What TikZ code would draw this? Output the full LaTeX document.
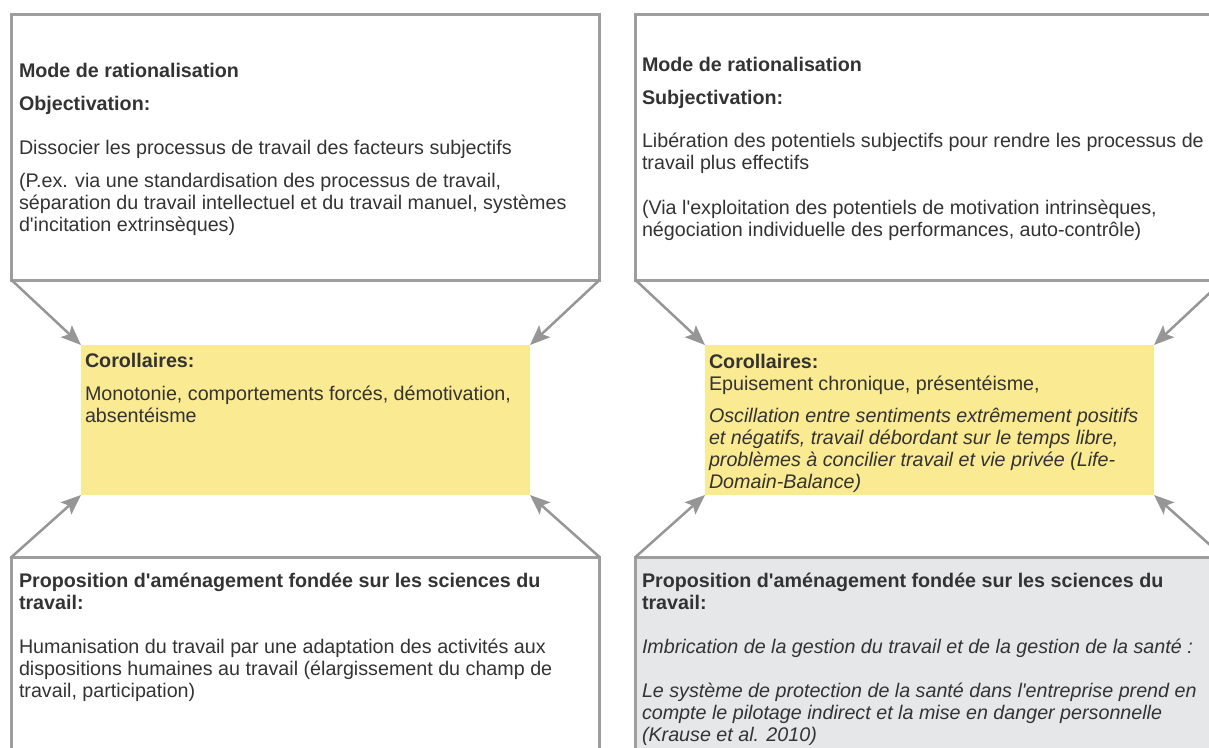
\documentclass[tikz,border=0pt]{standalone}
\usepackage{fontspec}
\usetikzlibrary{arrows.meta}
\newfontfamily\diagfont{Liberation Sans}
\definecolor{framegray}{RGB}{158,158,158}
\definecolor{arrowgray}{RGB}{150,150,150}
\definecolor{coryellow}{RGB}{250,234,145}
\definecolor{propgray}{RGB}{230,231,233}
\definecolor{textgray}{RGB}{51,51,51}

\begin{document}
\begin{tikzpicture}[line cap=round,line join=round,>={Stealth[length=20pt,width=16pt,inset=4pt]},x=1pt,y=-1pt,
  every node/.style={inner sep=0pt,outer sep=0pt},
  frame/.style={rectangle,draw=framegray,line width=3pt,line join=miter,anchor=north west,minimum width=588pt,minimum height=#1},
  corbox/.style={rectangle,fill=coryellow,anchor=north west,minimum width=449pt,minimum height=150pt},
  txt/.style={anchor=north west,align=left,text=textgray,font=\diagfont\fontsize{19.7}{22}\selectfont},
  flow/.style={->,draw=arrowgray,line width=2.5pt}]
\useasboundingbox (0,0) rectangle (1209,747);
\clip (0,0) rectangle (1209,747);
% left column
\node[frame=266pt] (ratL) at (11.5,14) {};
\node[corbox] (corL) at (81,345) {};
\node[frame=220pt] (propL) at (11.5,557) {};
% right column
\node[frame=266pt] (ratR) at (635.5,14) {};
\node[corbox] (corR) at (705,345) {};
\node[frame=220pt,fill=propgray] (propR) at (635.5,557) {};
% arrows
\draw[flow] (ratL.south west) -- (corL.north west);
\draw[flow] (ratL.south east) -- (corL.north east);
\draw[flow] (propL.north west) -- (corL.south west);
\draw[flow] (propL.north east) -- (corL.south east);
\draw[flow] (ratR.south west) -- (corR.north west);
\draw[flow] (ratR.south east) -- (corR.north east);
\draw[flow] (propR.north west) -- (corR.south west);
\draw[flow] (propR.north east) -- (corR.south east);
% texts
\node[txt] (ratLtext) at (19,63) {\textbf{Mode de rationalisation}\\[11pt]
  \textbf{Objectivation:}\\[22pt]
  Dissocier les processus de travail des facteurs subjectifs\\[11pt]
  (P.ex. via une standardisation des processus de travail,\\
  séparation du travail intellectuel et du travail manuel, systèmes\\
  d'incitation extrinsèques)};
\node[txt] (corLtext) at (85,353) {\textbf{Corollaires:}\\[11pt]
  Monotonie, comportements forcés, démotivation,\\
  absentéisme};
\node[txt] (propLtext) at (19,573) {\textbf{Proposition d'aménagement fondée sur les sciences du}\\
  \textbf{travail:}\\[22pt]
  Humanisation du travail par une adaptation des activités aux\\
  dispositions humaines au travail (élargissement du champ de\\
  travail, participation)};
\node[txt] (ratRtext) at (642,57) {\textbf{Mode de rationalisation}\\[11pt]
  \textbf{Subjectivation:}\\[21pt]
  Libération des potentiels subjectifs pour rendre les processus de\\
  travail plus effectifs\\[23pt]
  (Via l'exploitation des potentiels de motivation intrinsèques,\\
  négociation individuelle des performances, auto-contrôle)};
\node[txt] (corRtext) at (709,354) {\textbf{Corollaires:}\\
  Epuisement chronique, présentéisme,\\[10pt]
  \textit{Oscillation entre sentiments extrêmement positifs}\\
  \textit{et négatifs, travail débordant sur le temps libre,}\\
  \textit{problèmes à concilier travail et vie privée (Life-}\\
  \textit{Domain-Balance)}};
\node[txt] (propRtext) at (642,573) {\textbf{Proposition d'aménagement fondée sur les sciences du}\\
  \textbf{travail:}\\[22pt]
  \textit{Imbrication de la gestion du travail et de la gestion de la santé :}\\[22pt]
  \textit{Le système de protection de la santé dans l'entreprise prend en}\\
  \textit{compte le pilotage indirect et la mise en danger personnelle}\\
  \textit{(Krause et al. 2010)}};
\end{tikzpicture}
\end{document}
